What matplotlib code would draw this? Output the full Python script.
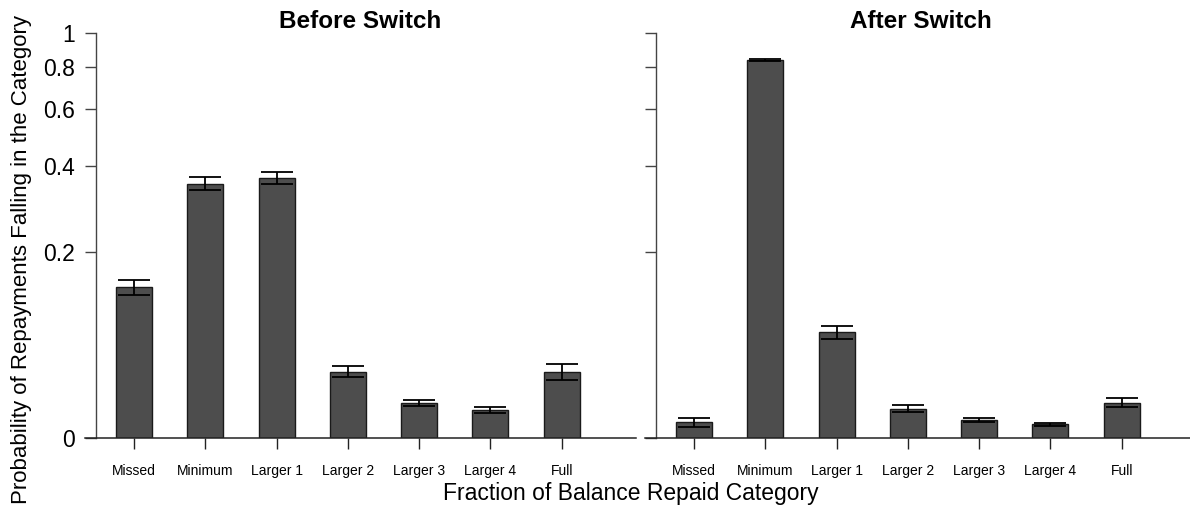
import numpy as np
import matplotlib
matplotlib.use('Agg')
import matplotlib.pyplot as plt

plt.rcParams['font.family'] = ['Liberation Sans', 'DejaVu Sans']

# categories of the fraction of balance repaid
categories = ['Missed', 'Minimum', 'Larger 1', 'Larger 2', 'Larger 3',
              'Larger 4', 'Full']

# probability of repayments in each category, with standard errors
before_prob = [0.144, 0.351, 0.367, 0.048, 0.023, 0.018, 0.048]
before_err = [0.0105, 0.0175, 0.016, 0.0048, 0.0022, 0.002, 0.007]
after_prob = [0.0097, 0.838, 0.087, 0.019, 0.0112, 0.0084, 0.0233]
after_err = [0.003, 0.007, 0.007, 0.0024, 0.0015, 0.001, 0.0032]

y_ticks = [0, 0.2, 0.4, 0.6, 0.8, 1]
y_ticklabels = ['0', '0.2', '0.4', '0.6', '0.8', '1']


# y axis is drawn on a log(p + 0.1) scale
def forward(y):
    return np.log10(np.maximum(y, -0.099) + 0.1)


def inverse(y):
    return 10 ** y - 0.1


W, H = 1190, 518
fig = plt.figure(figsize=(W / 100, H / 100), dpi=100)

x = np.arange(len(categories))
xlim = (-0.687, 7.04)
panels = [(before_prob, before_err, 'Before Switch', 85, True),
          (after_prob, after_err, 'After Switch', 645, False)]

for prob, err, title, left_px, show_labels in panels:
    width_px = (xlim[1] - xlim[0]) * 71.3
    ax = fig.add_axes([left_px / W, (H - 438) / H, width_px / W, 405 / H])
    ax.set_yscale('function', functions=(forward, inverse))
    ax.set_ylim(0, 1)
    ax.set_xlim(*xlim)

    ax.bar(x, prob, width=0.505, color='#4d4d4d', edgecolor='#1a1a1a',
           linewidth=1.0, zorder=2)
    ax.errorbar(x, prob, yerr=err, fmt='none', ecolor='black',
                elinewidth=1.3, capsize=11.5, capthick=1.3, zorder=3)

    # baseline at zero spanning the whole panel
    ax.axhline(0, color='#222222', linewidth=1.1, zorder=4, clip_on=False)

    for side in ['top', 'right', 'bottom']:
        ax.spines[side].set_visible(False)
    ax.spines['left'].set_position(('data', -0.533))
    ax.spines['left'].set_color('#444444')
    ax.spines['left'].set_linewidth(1.0)

    ax.set_yticks(y_ticks)
    ax.yaxis.set_minor_locator(matplotlib.ticker.NullLocator())
    if show_labels:
        ax.set_yticklabels(y_ticklabels, fontsize=16.5)
    else:
        ax.set_yticklabels([])
    ax.tick_params(axis='y', direction='out', length=8, width=1.0,
                   color='#444444', pad=7)

    ax.set_xticks(x)
    ax.set_xticklabels(categories, fontsize=10)
    ax.tick_params(axis='x', direction='out', length=8, width=1.0,
                   color='#222222', pad=11)

    ax.set_title(title, fontsize=17.5, fontweight='bold', pad=3)

fig.text(631 / W, 1 - 500 / H, 'Fraction of Balance Repaid Category',
         fontsize=16.5, ha='center', va='baseline')
fig.text(22 / W, 1 - 260 / H,
         'Probability of Repayments Falling in the Category',
         fontsize=16, ha='center', va='center', rotation=90)

fig.savefig('out.png', dpi=100)
